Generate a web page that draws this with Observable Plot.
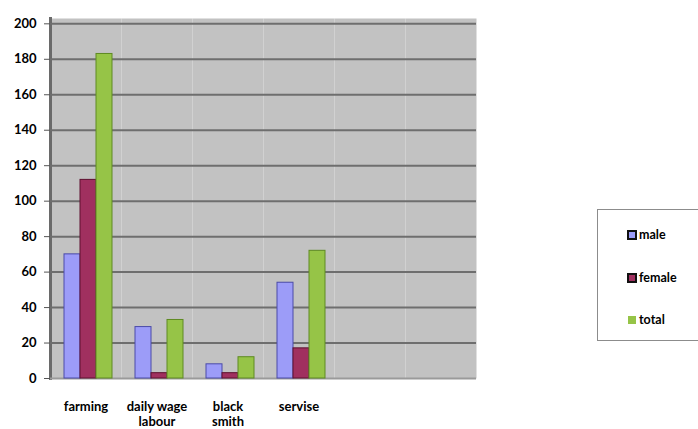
<!DOCTYPE html>
<html>
<head>
<meta charset="utf-8">
<script src="https://cdn.jsdelivr.net/npm/d3@7"></script>
<script src="https://cdn.jsdelivr.net/npm/@observablehq/plot@0.6"></script>
<style>
  body { margin: 0; background: #fff; font-family: Lato, "Open Sans", sans-serif; }
  #wrap { position: relative; width: 698px; height: 429px; overflow: hidden; }
  #legend { position: absolute; left: 597px; top: 209px; width: 120px; height: 132px;
    border: 1px solid #8c8c8c; box-sizing: border-box; background: #fff; }
  .item { position: absolute; left: 29px; font-weight: bold; font-size: 12.5px; display: flex; align-items: center; color: #000; }
  .sw { box-sizing: border-box; margin-right: 2px; }
</style>
</head>
<body>
<div id="wrap">
  <div id="chart"></div>
  <div id="legend"></div>
</div>
<script>
const categories = ["farming", "daily wage\nlabour", "black\nsmith", "servise", "empty1", "empty2"];
const series = ["male", "female", "total"];
const male = [70, 29, 8, 54];
const female = [112, 3, 3, 17];
const total = [183, 33, 12, 72];
const yTicks = [0, 20, 40, 60, 80, 100, 120, 140, 160, 180, 200];
const colors = ["#9c9cf8", "#a0305f", "#96c447"];
const strokes = ["#4a4aa8", "#5e1030", "#5e8a22"];

const data = [];
[male, female, total].forEach((vals, si) => {
  vals.forEach((v, ci) => data.push({category: categories[ci], series: series[si], value: v}));
});
const grid = [];
categories.forEach(c => yTicks.forEach(t => grid.push({category: c, y: t})));

const chart = Plot.plot({
  width: 698,
  height: 429,
  marginLeft: 50,
  marginRight: 222,
  marginTop: 18,
  marginBottom: 51,
  style: {fontFamily: "Lato, 'Open Sans', sans-serif", fontWeight: "bold", fontSize: "13px", color: "#000"},
  fx: {domain: categories, padding: 0, label: null},
  x: {domain: series, paddingInner: 0, paddingOuter: 0.6, align: 0.6, axis: null},
  y: {domain: [0, 203], label: null},
  color: {domain: series, range: colors},
  marks: [
    Plot.frame({fill: "#c2c2c2", stroke: "none"}),
    Plot.frame({anchor: "left", stroke: "#6a6a6a", strokeWidth: 3, facet: "super"}),
    Plot.ruleY(grid.filter(d => d.y > 0), {fx: "category", y: "y", stroke: "#6e6e6e", strokeWidth: 2}),
    Plot.ruleY(grid.filter(d => d.y === 0), {fx: "category", y: "y", stroke: "#9a9a9a", strokeWidth: 2}),
    Plot.barY(data, {fx: "category", x: "series", y: "value", fill: "series",
      stroke: d => strokes[series.indexOf(d.series)], strokeWidth: 1}),
    Plot.axisY({ticks: yTicks, tickSize: 6, tickPadding: 8, stroke: "#555", label: null}),
    Plot.axisFx({anchor: "bottom", tickSize: 0, tickPadding: 22, lineHeight: 1.15, label: null,
      tickFormat: d => d.startsWith("empty") ? "" : d})
  ]
});
document.getElementById("chart").appendChild(chart);

const legend = document.getElementById("legend");
const tops = [17, 60, 102];
series.forEach((s, i) => {
  const it = document.createElement("div");
  it.className = "item";
  it.style.top = tops[i] + "px";
  const sw = document.createElement("span");
  sw.className = "sw";
  if (i < 2) {
    sw.style.width = "10px"; sw.style.height = "10px";
    sw.style.border = "2px solid #111";
  } else {
    sw.style.width = "8px"; sw.style.height = "8px";
    sw.style.marginLeft = "1px"; sw.style.marginRight = "3px";
  }
  sw.style.background = colors[i];
  it.appendChild(sw);
  it.appendChild(document.createTextNode(s));
  legend.appendChild(it);
});
</script>
</body>
</html>
